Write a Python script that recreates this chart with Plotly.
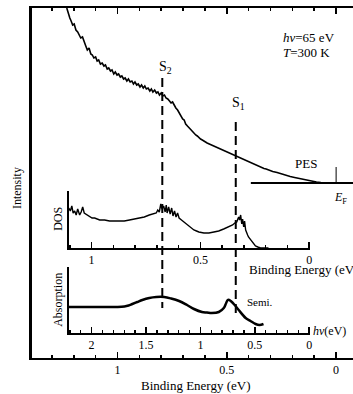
import plotly.graph_objects as go

# ---------------- data ----------------
# Main PES spectrum (binding energy in eV, intensity in arb. units)
pes_energy = [1.232, 1.225, 1.218, 1.212, 1.205, 1.198, 1.19, 1.182, 1.175, 1.168, 1.16, 1.152,
              1.145, 1.138, 1.13, 1.122, 1.115, 1.108, 1.1, 1.093, 1.086, 1.078, 1.07, 1.062,
              1.055, 1.047, 1.04, 1.032, 1.025, 1.017, 1.01, 1.002, 0.995, 0.987, 0.98, 0.972,
              0.965, 0.957, 0.95, 0.942, 0.934, 0.927, 0.92, 0.912, 0.905, 0.897, 0.89, 0.882,
              0.875, 0.868, 0.86, 0.852, 0.845, 0.838, 0.83, 0.822, 0.815, 0.808, 0.8, 0.793,
              0.785, 0.778, 0.77, 0.762, 0.755, 0.748, 0.74, 0.733, 0.725, 0.718, 0.71, 0.702,
              0.695, 0.688, 0.68, 0.672, 0.665, 0.658, 0.65, 0.642, 0.635, 0.627, 0.62, 0.612,
              0.6, 0.59, 0.58, 0.57, 0.56, 0.55, 0.54, 0.53, 0.52, 0.51, 0.5, 0.49, 0.48, 0.47,
              0.46, 0.45, 0.44, 0.43, 0.42, 0.41, 0.4, 0.39, 0.38, 0.37, 0.36, 0.35, 0.34, 0.33,
              0.32, 0.31, 0.29, 0.27, 0.25, 0.23, 0.21, 0.19, 0.17, 0.15, 0.13, 0.11, 0.09, 0.07]
pes_intensity = [350, 344, 340, 337, 333, 334, 328, 326, 323, 320, 321, 315,
                 312, 308, 310, 304, 303, 300, 301, 297, 298, 294, 295, 292,
                 293, 289, 290, 287, 288, 284, 286, 283, 284, 281, 282, 279,
                 280, 277, 279, 276, 277, 274, 276, 273, 274, 271, 273, 270,
                 272, 269, 270, 267, 269, 266, 268, 265, 266, 263, 265, 262,
                 263, 260, 259, 257, 255, 256, 252, 250, 248, 245, 243, 239,
                 238, 234, 232, 230, 228, 226, 225, 223, 222, 220, 219, 218,
                 216, 215, 214, 213, 212, 211, 210, 209.5, 208, 207.5, 206, 205.5, 204, 203.5,
                 202, 201.5, 200, 199, 198, 197, 196, 195, 194, 193, 192, 191.5, 190.5, 189.5,
                 189, 188, 186.5, 185.5, 184, 183, 181.5, 180.5, 179.5, 178.5, 177.5, 177, 176, 175.5]
pes_baseline_energy = [0.39, -0.09]
pes_baseline_level = 175
fermi_energy = 0.0
fermi_marker = [175, 191]

# Feature positions on the main binding-energy axis
s_labels = ["S<sub>2</sub>", "S<sub>1</sub>"]
s_energy = [0.795, 0.459]
s_top = [280, 236]
s_bottom = [50, 41]

# DOS inset
dos_energy = [1.105, 1.098, 1.091, 1.085, 1.078, 1.071, 1.064, 1.059, 1.055, 1.048, 1.041, 1.034,
              1.027, 1.018, 1.009, 0.998, 0.986, 0.975, 0.963, 0.94, 0.918, 0.895, 0.872, 0.85,
              0.826, 0.804, 0.781, 0.758, 0.735, 0.72, 0.703, 0.696, 0.689, 0.682, 0.676, 0.669,
              0.662, 0.657, 0.653, 0.646, 0.639, 0.632, 0.626, 0.619, 0.612, 0.605, 0.598, 0.587,
              0.575, 0.564, 0.553, 0.541, 0.53, 0.518, 0.507, 0.484, 0.461, 0.438, 0.416, 0.393,
              0.37, 0.352, 0.342, 0.333, 0.328, 0.324, 0.32, 0.315, 0.31, 0.306, 0.301, 0.297,
              0.292, 0.288, 0.283, 0.279, 0.272, 0.265, 0.256, 0.247, 0.236, 0.224, 0.205, 0.187]
dos_value = [40, 37, 42, 35, 37, 33, 39, 34, 33, 36, 41, 35,
             34, 33, 32, 30, 30, 29, 28, 28, 27, 27, 27, 27,
             28, 29, 30, 31, 33, 34, 35, 38, 36, 44, 39, 42,
             36, 43, 35, 41, 34, 40, 32, 37, 31, 35, 30, 28,
             26, 24, 22, 20, 18, 17, 16, 15, 15, 16, 17, 19,
             21, 23, 25, 26, 29, 31, 28, 33, 24, 29, 21, 27,
             18, 15, 13, 11, 9, 7, 4, 2, 1, 0, 0, 0]

# Absorption inset (photon energy in eV)
abs_energy = [2.21, 2.1, 2.018, 1.93, 1.836, 1.76, 1.699, 1.66, 1.626, 1.58, 1.534, 1.47,
              1.406, 1.333, 1.269, 1.196, 1.123, 1.059, 0.986, 0.94, 0.895, 0.831, 0.785, 0.765,
              0.749, 0.735, 0.721, 0.685, 0.648, 0.584, 0.539, 0.493, 0.457, 0.42]
abs_value = [26, 26, 26, 26, 26, 26, 26.5, 27.5, 29, 31, 33, 35,
             36, 36, 34.5, 32, 28, 24, 21, 20.5, 20, 21, 25, 29.5,
             33, 33, 32, 28, 23, 15, 12, 9, 8, 9]

main_ticks = [1, 0.5, 0]
main_ticktext = ["1", "0.5", "0"]
dos_ticks = [1, 0.5, 0]
dos_ticktext = ["1", "0.5", "0"]
abs_ticks = [2, 1.5, 1, 0.5, 0]
abs_ticktext = ["2", "1.5", "1", "0.5", "0"]

# ---------------- layout geometry ----------------
# figure is slightly wider than the 353 px window so the frame runs off the right edge
W, H = 358, 394
ML, MR, MT, MB = 32, 0, 8, 36
PW, PH = W - ML - MR, H - MT - MB


def px(x):
    return (x - ML) / PW


def py(y):
    return (H - MB - y) / PH


FONT = "Liberation Serif"
BLACK = "black"

fig = go.Figure()

# main PES curve
fig.add_trace(go.Scatter(x=pes_energy, y=pes_intensity, mode="lines",
                         line=dict(color=BLACK, width=1.6), xaxis="x", yaxis="y"))
fig.add_trace(go.Scatter(x=pes_baseline_energy, y=[pes_baseline_level] * 2, mode="lines",
                         line=dict(color=BLACK, width=2), xaxis="x", yaxis="y"))
fig.add_trace(go.Scatter(x=[fermi_energy] * 2, y=fermi_marker, mode="lines",
                         line=dict(color=BLACK, width=1), xaxis="x", yaxis="y"))
for e, t, b in zip(s_energy, s_top, s_bottom):
    fig.add_trace(go.Scatter(x=[e, e], y=[t, b], mode="lines",
                             line=dict(color=BLACK, width=2, dash="9px,5px"),
                             xaxis="x", yaxis="y"))

# DOS inset
fig.add_trace(go.Scatter(x=dos_energy, y=dos_value, mode="lines",
                         line=dict(color=BLACK, width=1.4), xaxis="x2", yaxis="y2"))
# absorption inset
fig.add_trace(go.Scatter(x=abs_energy, y=abs_value, mode="lines", line_shape="spline",
                         line=dict(color=BLACK, width=2.5), xaxis="x3", yaxis="y3"))

tickfont = dict(family=FONT, size=12, color=BLACK)
inset_dom_x = [px(69), px(312)]

fig.update_layout(
    width=W, height=H,
    margin=dict(l=ML, r=MR, t=MT, b=MB),
    paper_bgcolor="white", plot_bgcolor="rgba(0,0,0,0)",
    showlegend=False,
    font=dict(family=FONT, size=12, color=BLACK),
    xaxis=dict(domain=[0, 1], range=[1.391, -0.091], showline=True, linecolor=BLACK, linewidth=2,
               mirror="ticks", ticks="inside", ticklen=6, tickwidth=1.5, tickcolor=BLACK,
               tickvals=main_ticks, ticktext=main_ticktext, tickfont=tickfont,
               minor=dict(ticks="inside", ticklen=3, dtick=0.1, tick0=0, tickwidth=1.5,
                          tickcolor=BLACK),
               showgrid=False, zeroline=False, anchor="y"),
    yaxis=dict(domain=[0, 1], range=[0, 350], showline=True, linecolor=BLACK, linewidth=3,
               showticklabels=False, ticks="", showgrid=False, zeroline=False, anchor="x"),
    xaxis2=dict(domain=inset_dom_x, range=[1.105, -0.005], anchor="y2", showline=True,
                linecolor=BLACK, linewidth=1.5, ticks="inside", ticklen=6, tickwidth=1.5,
                tickcolor=BLACK, tickvals=dos_ticks, ticktext=dos_ticktext, tickfont=tickfont,
                minor=dict(ticks="inside", ticklen=3, dtick=0.1, tick0=0, tickwidth=1.5,
                           tickcolor=BLACK),
                showgrid=False, zeroline=False),
    yaxis2=dict(domain=[py(248), py(191)], range=[0, 57], anchor="x2", showline=True,
                linecolor=BLACK, linewidth=1.5, showticklabels=False, ticks="",
                showgrid=False, zeroline=False),
    xaxis3=dict(domain=inset_dom_x, range=[2.21, -0.01], anchor="y3", showline=True,
                linecolor=BLACK, linewidth=1.5, ticks="inside", ticklen=6, tickwidth=1.5,
                tickcolor=BLACK, tickvals=abs_ticks, ticktext=abs_ticktext, tickfont=tickfont,
                minor=dict(ticks="inside", ticklen=3, dtick=0.1, tick0=0, tickwidth=1.5,
                           tickcolor=BLACK),
                showgrid=False, zeroline=False),
    yaxis3=dict(domain=[py(333), py(267)], range=[0, 66], anchor="x3", showline=True,
                linecolor=BLACK, linewidth=1.5, showticklabels=False, ticks="",
                showgrid=False, zeroline=False),
)


def note(text, x, y, size=12, xanchor="center", angle=0):
    fig.add_annotation(text=text, x=px(x), y=py(y), xref="paper", yref="paper",
                       xanchor=xanchor, yanchor="middle", showarrow=False, textangle=angle,
                       font=dict(family=FONT, size=size, color=BLACK))


note("<i>hν</i>=65 eV", 283, 37, 13, "left")
note("<i>T</i>=300 K", 283, 53, 13, "left")
note(s_labels[0], 166, 68, 14)
note(s_labels[1], 240, 104, 14)
note("PES", 308, 163, 13)
note("<i>E</i><sub>F</sub>", 342, 198, 12)
note("DOS", 58, 219, 12, angle=-90)
note("Binding Energy (eV)", 248, 269, 13, "left")
note("Absorption", 58, 300, 12, angle=-90)
note("Semi.", 246, 302, 11, "left")
note("<i>hν</i>(eV)", 313, 331, 12, "left")
note("Binding Energy (eV)", 197, 385, 13)
note("Intensity", 17, 188, 12, angle=-90)

fig.write_html(
    "out.html",
    config={"displayModeBar": False, "staticPlot": True},
    post_script=(
        "document.documentElement.style.overflow='hidden';"
        "document.body.style.margin='0';document.body.style.overflow='hidden';"
        "document.documentElement.style.scrollbarWidth='none';"
    ),
)
